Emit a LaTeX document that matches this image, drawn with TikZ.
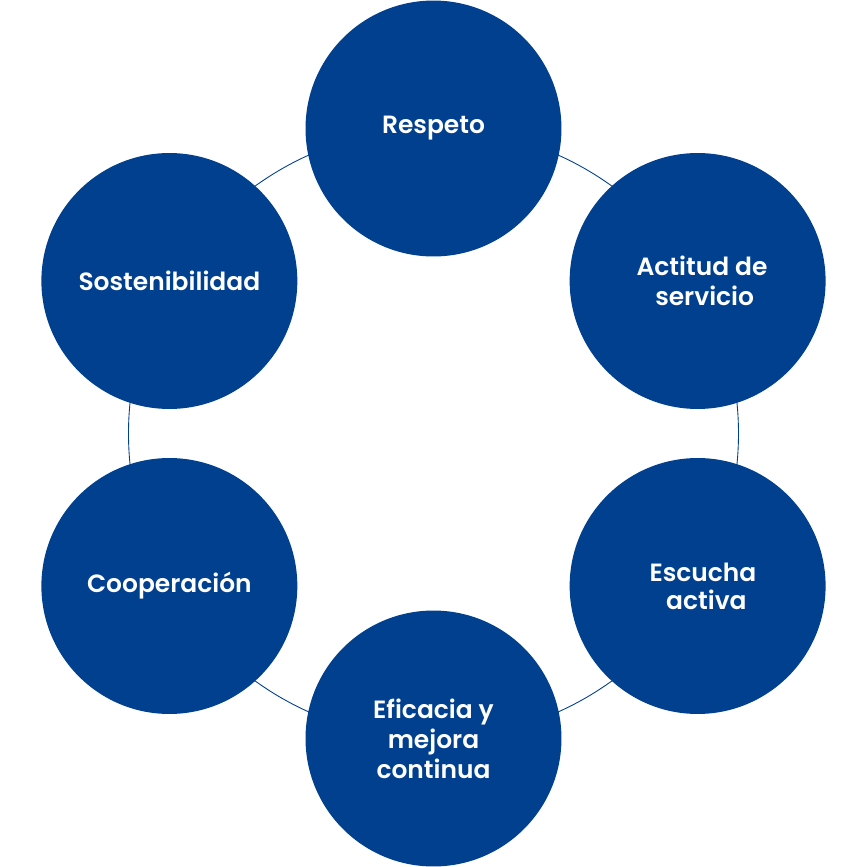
\documentclass[tikz,border=0pt]{standalone}
\usepackage{fontspec}
\setmainfont{Poppins}[BoldFont={Poppins SemiBold}]
\definecolor{valueblue}{RGB}{0,64,143}

\begin{document}
\begin{tikzpicture}[x=0.02cm, y=0.02cm,
	value/.style={circle, fill=valueblue, minimum size=5.12cm, inner sep=0pt,
		text=white, align=center, font=\fontsize{14.2}{17}\selectfont\bfseries}]
\useasboundingbox (-433.5,-433.5) rectangle (433.5,433.5);

\draw [valueblue, line width=0.5pt] (0,0) circle (305);

\node [value] (respeto) at (90:305) {Respeto};
\node [value] (actitud) at (30:305) {\hspace{5pt}Actitud de\\\hspace{8pt}servicio};
\node [value] (escucha) at (-30:305) {\hspace{6pt}Escucha\\[-1pt]\hspace{10pt}activa};
\node [value] (eficacia) at (-90:305) {Eficacia y\\mejora\\continua};
\node [value] (cooperacion) at (210:305) {Cooperación};
\node [value] (sostenibilidad) at (150:305) {Sostenibilidad};

\end{tikzpicture}
\end{document}
